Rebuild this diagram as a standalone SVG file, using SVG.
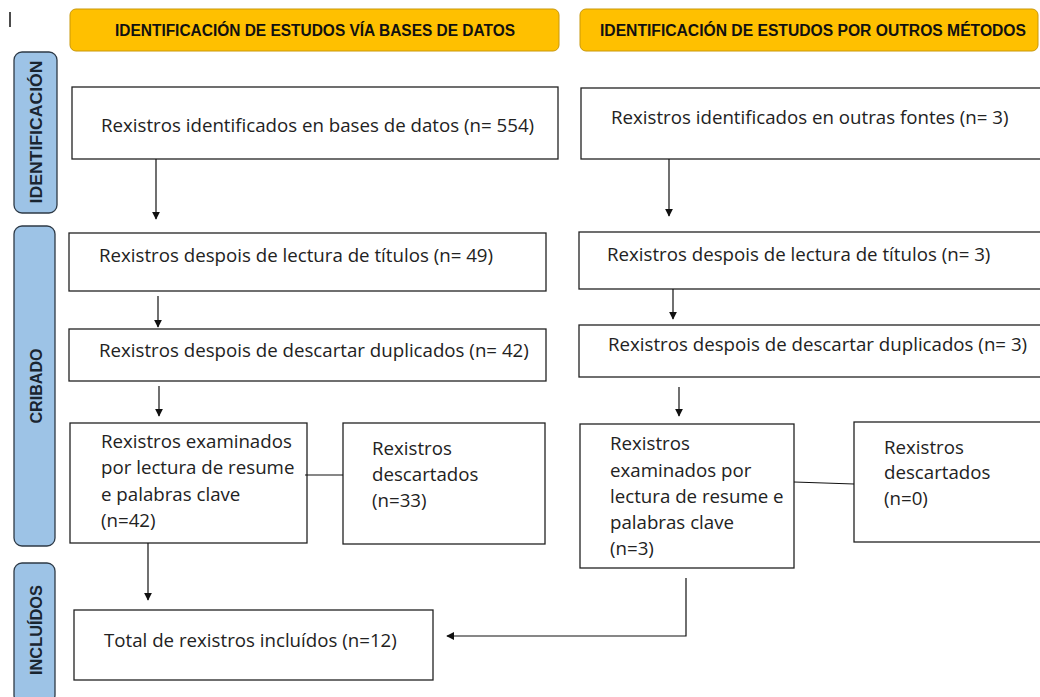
<svg xmlns="http://www.w3.org/2000/svg" width="1040" height="697" viewBox="0 0 1040 697">
<defs>
<style>
.hdr{fill:#FFC000;stroke:#C9980A;stroke-width:1}
.side{fill:#9DC3E6;stroke:#2E3A46;stroke-width:1.3}
.box{fill:#FFFFFF;stroke:#222;stroke-width:1.3}
.t{font-family:"Open Sans","Liberation Sans",Arial,sans-serif;font-size:18.7px;fill:#222}
.h{font-family:"Liberation Sans",Arial,sans-serif;font-size:16px;font-weight:bold;fill:#111}
.s{font-family:"Liberation Sans",Arial,sans-serif;font-size:17px;font-weight:bold;fill:#1A2530}
.c{fill:none;stroke:#111;stroke-width:1.2}
</style>
<marker id="arr" viewBox="0 0 10 10" refX="9" refY="5" markerWidth="8" markerHeight="8" markerUnits="userSpaceOnUse" orient="auto">
<path d="M0,0 L10,5 L0,10 z" fill="#111"/>
</marker>
</defs>
<rect width="1040" height="697" fill="#FFFFFF"/>
<line x1="10" y1="12" x2="10" y2="27" stroke="#111" stroke-width="1.5"/>

<g id="header-bases">
<rect class="hdr" x="70" y="9" width="489" height="42" rx="6"/>
<text class="h" x="315" y="36" text-anchor="middle" textLength="400" lengthAdjust="spacingAndGlyphs">IDENTIFICACIÓN DE ESTUDOS VÍA BASES DE DATOS</text>
</g>
<g id="header-outros">
<rect class="hdr" x="580" y="9" width="458" height="42" rx="6"/>
<text class="h" x="813" y="36" text-anchor="middle" textLength="426" lengthAdjust="spacingAndGlyphs">IDENTIFICACIÓN DE ESTUDOS POR OUTROS MÉTODOS</text>
</g>

<g id="side-identificacion">
<rect class="side" x="14" y="52" width="43" height="161" rx="8"/>
<text class="s" transform="translate(42,132) rotate(-90)" text-anchor="middle" textLength="143" lengthAdjust="spacingAndGlyphs">IDENTIFICACIÓN</text>
</g>
<g id="side-cribado">
<rect class="side" x="14" y="226" width="41" height="320" rx="8"/>
<text class="s" transform="translate(42,386) rotate(-90)" text-anchor="middle" textLength="75" lengthAdjust="spacingAndGlyphs">CRIBADO</text>
</g>
<g id="side-incluidos">
<rect class="side" x="14" y="563" width="41" height="140" rx="8"/>
<text class="s" transform="translate(42,630) rotate(-90)" text-anchor="middle" textLength="90" lengthAdjust="spacingAndGlyphs">INCLUÍDOS</text>
</g>

<g id="bd-identificados">
<rect class="box" x="72" y="87" width="486" height="72"/>
<text class="t" x="101" y="132">Rexistros identificados en bases de datos (n= 554)</text>
</g>
<g id="om-identificados">
<rect class="box" x="581" y="88" width="470" height="71"/>
<text class="t" x="611" y="124">Rexistros identificados en outras fontes (n= 3)</text>
</g>
<g id="bd-titulos">
<rect class="box" x="69" y="233" width="477" height="58"/>
<text class="t" x="99" y="262">Rexistros despois de lectura de títulos (n= 49)</text>
</g>
<g id="om-titulos">
<rect class="box" x="579" y="232" width="470" height="57"/>
<text class="t" x="607" y="261">Rexistros despois de lectura de títulos (n= 3)</text>
</g>
<g id="bd-duplicados">
<rect class="box" x="69" y="329" width="477" height="52"/>
<text class="t" x="99" y="357">Rexistros despois de descartar duplicados (n= 42)</text>
</g>
<g id="om-duplicados">
<rect class="box" x="579" y="325" width="470" height="52"/>
<text class="t" x="608" y="351">Rexistros despois de descartar duplicados (n= 3)</text>
</g>
<g id="bd-examinados">
<rect class="box" x="70" y="423" width="237" height="120"/>
<text class="t" x="101" y="448">Rexistros examinados</text>
<text class="t" x="101" y="474">por lectura de resume</text>
<text class="t" x="101" y="501">e palabras clave</text>
<text class="t" x="101" y="527">(n=42)</text>
</g>
<g id="bd-descartados">
<rect class="box" x="343" y="423" width="202" height="121"/>
<text class="t" x="372" y="455">Rexistros</text>
<text class="t" x="372" y="481">descartados</text>
<text class="t" x="372" y="507">(n=33)</text>
</g>
<g id="om-examinados">
<rect class="box" x="580" y="424" width="214" height="144"/>
<text class="t" x="610" y="450">Rexistros</text>
<text class="t" x="610" y="477">examinados por</text>
<text class="t" x="610" y="503">lectura de resume e</text>
<text class="t" x="610" y="529">palabras clave</text>
<text class="t" x="610" y="555">(n=3)</text>
</g>
<g id="om-descartados">
<rect class="box" x="854" y="422" width="200" height="120"/>
<text class="t" x="884" y="454">Rexistros</text>
<text class="t" x="884" y="479">descartados</text>
<text class="t" x="884" y="505">(n=0)</text>
</g>
<g id="total-incluidos">
<rect class="box" x="74" y="610" width="359" height="70"/>
<text class="t" x="104" y="647">Total de rexistros incluídos (n=12)</text>
</g>

<g id="connectors">
<line class="c" x1="156" y1="159" x2="156" y2="219" marker-end="url(#arr)"/>
<line class="c" x1="669" y1="159" x2="669" y2="216" marker-end="url(#arr)"/>
<line class="c" x1="158" y1="296" x2="158" y2="327" marker-end="url(#arr)"/>
<line class="c" x1="673" y1="289" x2="673" y2="319" marker-end="url(#arr)"/>
<line class="c" x1="159" y1="386" x2="159" y2="416" marker-end="url(#arr)"/>
<line class="c" x1="679" y1="387" x2="679" y2="416" marker-end="url(#arr)"/>
<line class="c" x1="305" y1="475" x2="343" y2="475"/>
<line class="c" x1="794" y1="482" x2="854" y2="484"/>
<line class="c" x1="148" y1="543" x2="148" y2="600" marker-end="url(#arr)"/>
<polyline class="c" points="686,578 686,636 447,636" marker-end="url(#arr)"/>
</g>
</svg>
